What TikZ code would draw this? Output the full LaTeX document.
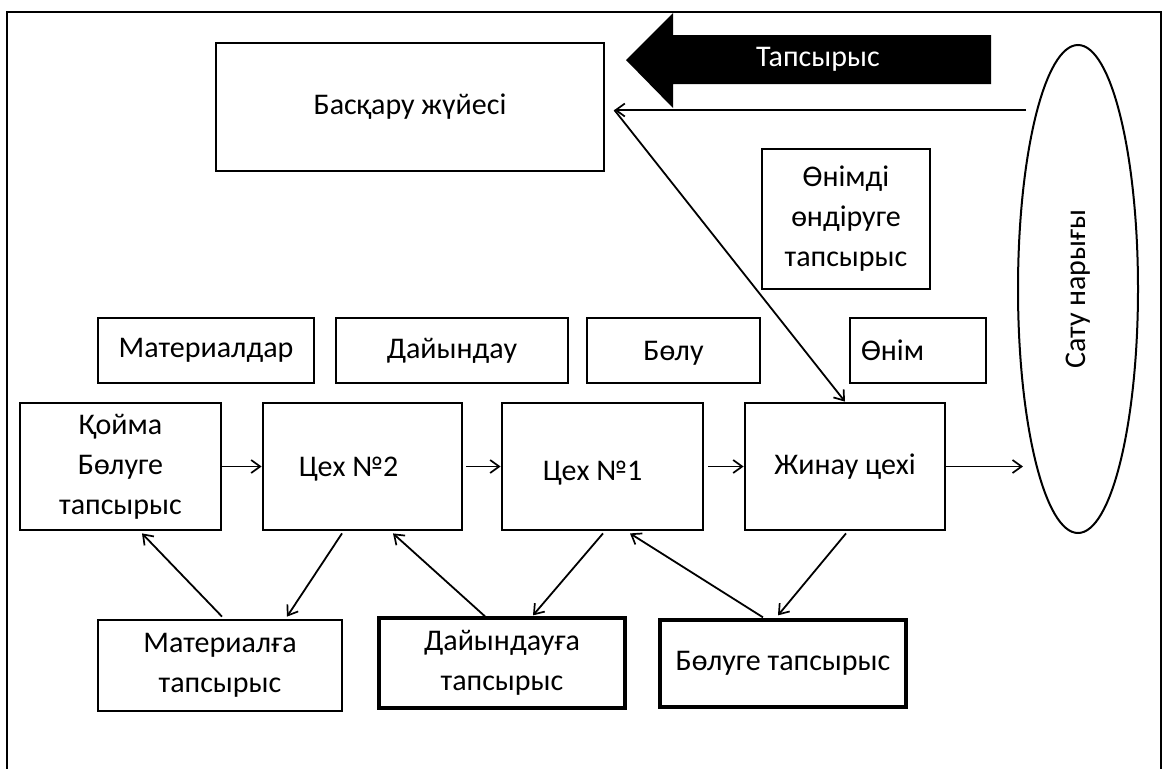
\documentclass[tikz,border=0pt]{standalone}
\usepackage{fontspec}
\usepackage{graphicx}
\setmainfont{Carlito}
\usetikzlibrary{arrows.meta,shapes.geometric,calc}

\tikzset{
  box/.style={draw, rectangle, line width=2.8pt, inner sep=0pt, align=center,
              font=\fontsize{30}{40}\selectfont},
  heavybox/.style={box, line width=3.3pt},
  link/.style={line width=1.8pt, -{Straight Barb[length=9pt,width=13pt,line width=1.7pt]}}
}

\begin{document}
\begin{tikzpicture}[x=1pt,y=-1pt]
  \useasboundingbox (0,0) rectangle (1163,769);

  % outer frame, open at the bottom
  \draw[line width=2.2pt] (7,775) -- (7,12) -- (1161,12) -- (1161,775);

  % management system
  \node[box, minimum width=388, minimum height=128] (ctrl) at (410,107) {Басқару жүйесі};

  % big black "order" arrow
  \fill[black] (626,60) -- (673,13) -- (673,35) -- (991,35) -- (991,84)
               -- (673,84) -- (673,108) -- cycle;
  \node[font=\fontsize{30}{36}\selectfont, text=white] (ordtxt) at (818,59) {Тапсырыс};

  % sales market
  \node[draw, ellipse, line width=2pt, minimum width=120, minimum height=488, inner sep=0pt,
        font=\fontsize{30}{36}\selectfont] (market) at (1078,289)
        {\rotatebox{90}{Сату нарығы}};

  % production order
  \node[box, minimum width=168, minimum height=140] (prod) at (846,219)
        {Өнімді\\өндіруге\\тапсырыс};

  % label row
  \node[box, minimum width=216, minimum height=65] (mat)  at (206,350.5) {Материалдар};
  \node[box, minimum width=232, minimum height=65] (prep) at (452,350.5) {Дайындау};
  \node[box, minimum width=173, minimum height=65] (dist) at (673.5,350.5) {\raisebox{-3pt}[\height][\depth]{Бөлу}};
  \node[box, minimum height=65, text width=114, inner xsep=11pt, align=left] (item) at (918,350.5) {Өнім};

  % workshop row
  \node[box, minimum width=201, minimum height=127] (store) at (120.5,466.5) {Қойма\\Бөлуге\\тапсырыс};
  \node[box, minimum width=199, minimum height=127] (shop2) at (362.5,466.5)
        {\hspace*{-28pt}\raisebox{-3pt}[\height][\depth]{Цех №2}};
  \node[box, minimum width=201, minimum height=127] (shop1) at (602.5,466.5)
        {\hspace*{-20pt}\raisebox{-7pt}[\height][\depth]{Цех №1}};
  \node[box, minimum width=200, minimum height=127] (asm)   at (845,466.5) {Жинау цехі};

  % order row
  \node[box, minimum width=244, minimum height=91] (matord)  at (220,665.5) {Материалға\\тапсырыс};
  \node[heavybox, minimum width=246, minimum height=90] (prepord) at (502,663) {Дайындауға\\тапсырыс};
  \node[heavybox, minimum width=246, minimum height=87] (distord) at (783,663.5) {Бөлуге тапсырыс};

  % order flow from the market to the management system and on to assembly
  \coordinate (mktin) at (1026,110);
  \coordinate (hub) at ($(ctrl.east |- mktin)+(9,0)$);
  \draw[link] (mktin) -- (hub);
  \draw[link] (hub) -- (asm.north);

  % material flow along the workshops
  \draw[link] (store.east) -- (shop2.west);
  \draw[link, shorten <=3pt] (shop2.east) -- (shop1.west);
  \draw[link, shorten <=4pt] (shop1.east) -- (asm.west);
  \draw[link] (asm.east) -- ($(asm.east -| market.west)+(6,0)$);

  % orders between the workshops
  \draw[link] ($(matord.north)+(2,-2)$)    -- ($(store.south)+(21.5,2)$);
  \draw[link] ($(shop2.south)+(-20.5,2)$)  -- ($(matord.north)+(67,-2)$);
  \draw[link] ($(prepord.north)+(-17,0)$)  -- ($(shop2.south)+(30.5,2)$);
  \draw[link] ($(shop1.south)+(0.5,2)$)    -- ($(prepord.north)+(31,-1)$);
  \draw[link] ($(distord.north)+(-20,-1)$) -- ($(shop1.south)+(27.5,2)$);
  \draw[link] ($(asm.south)+(1,2)$)        -- ($(distord.north)+(-5,-3)$);
\end{tikzpicture}
\end{document}
